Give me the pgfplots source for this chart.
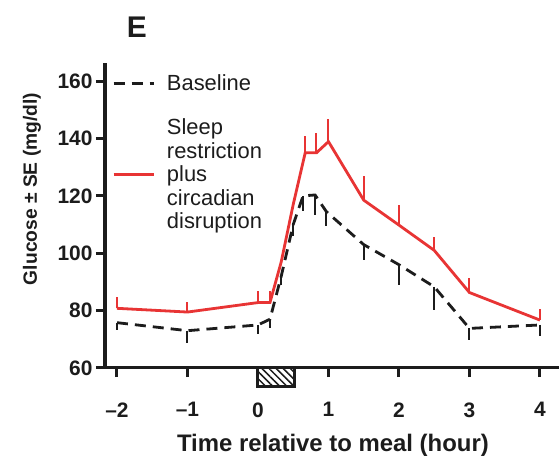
\documentclass[border=0pt]{standalone}
\usepackage{fontspec}
\setmainfont{Liberation Sans}
\usepackage{pgfplots}
\pgfplotsset{compat=1.18}
\usetikzlibrary{patterns.meta}
\definecolor{srcd}{RGB}{232,52,52}
\definecolor{base}{RGB}{28,28,28}

\begin{document}
\begin{tikzpicture}
\path[use as bounding box] (0,0) rectangle (559bp,460bp);
\begin{axis}[
  at={(105bp,92bp)}, anchor=south west,
  scale only axis, width=454bp, height=305bp,
  xmin=-2.17, xmax=4.27, ymin=60, ymax=166.3,
  clip=false,
  axis x line=bottom, axis y line=left,
  axis line style={-, line width=3bp, base},
  tick align=outside, major tick length=9bp,
  tick style={line width=3bp, base},
  xtick={-2,...,4}, xticklabels={--2,--1,0,1,2,3,4},
  ytick={60,80,...,160},
  /pgf/number format/assume math mode=true,
  ticklabel style={font=\bfseries\fontsize{21}{21}\selectfont, text=base},
  xticklabel style={yshift=-22bp},
  title={E},
  title style={at={(axis description cs:0.07,1.097)}, anchor=center,
    font=\bfseries\fontsize{30}{30}\selectfont, text=base},
  reverse legend,
  legend cell align=left,
  legend image code/.code={\draw[#1] (0bp,0bp) -- (40bp,0bp);},
  legend style={at={(axis description cs:0.0154,0.969)}, anchor=north west,
    draw=none, fill=none, inner sep=0pt, row sep=23bp, column sep=10bp,
    font=\fontsize{22}{23.5}\selectfont, text=base,
    cells={align=left}},
]
% meal period marker below the time axis
\addplot[forget plot, draw=base, line width=2.5bp,
  pattern={Lines[angle=-45, distance=5bp, line width=1.5bp]}, pattern color=base]
  coordinates {(-0.01,60) (0.52,60) (0.52,53.5) (-0.01,53.5)} -- cycle;

% sleep restriction plus circadian disruption: mean, +SE
\addplot[srcd, line width=2.8bp, no marks,
  error bars/.cd, y dir=plus, y explicit, error mark=none,
  error bar style={line width=2bp, srcd}]
  coordinates {
  (-2,80.8) +- (0,4.0)
  (-1,79.5) +- (0,3.6)
  (0,82.8) +- (0,4.2)
  (0.17,82.8) +- (0,4.2)
  (0.33,97) +- (0,0)
  (0.5,117) +- (0,0)
  (0.67,135) +- (0,6)
  (0.83,135) +- (0,7)
  (1.0,138.9) +- (0,8)
  (1.5,118.5) +- (0,8.5)
  (2.0,109.8) +- (0,7)
  (2.5,101) +- (0,4.7)
  (3.0,86.3) +- (0,5)
  (4.0,76.7) +- (0,4)
  };
\addlegendentry{Sleep\\restriction\\plus\\circadian\\disruption}

% baseline: mean, -SE
\addplot[base, line width=2.8bp, no marks, dash pattern=on 11bp off 7bp,
  error bars/.cd, y dir=minus, y explicit, error mark=none,
  error bar style={line width=2bp, solid, base}]
  coordinates {
  (-2,75.8) +- (0,2.6)
  (-1,73) +- (0,4.4)
  (0,75) +- (0,3)
  (0.17,77) +- (0,3)
  (0.33,92) +- (0,3)
  (0.5,110) +- (0,4)
  (0.64,120) +- (0,5.2)
  (0.81,120.3) +- (0,7)
  (0.97,114.5) +- (0,5)
  (1.5,103) +- (0,5.3)
  (2.0,96) +- (0,7)
  (2.5,88.3) +- (0,8)
  (3.0,73.8) +- (0,4)
  (4.0,75) +- (0,4)
  };
\addlegendentry{Baseline}

% axis titles
\node[font=\bfseries\fontsize{24}{24}\selectfont, text=base, anchor=center]
  at (rel axis cs:0.502,-0.255) {Time relative to meal (hour)};
\node[font=\bfseries\fontsize{19.3}{19.3}\selectfont, text=base, anchor=center,
  rotate=90] at (rel axis cs:-0.161,0.587) {Glucose \textpm{} SE (mg/dl)};
\end{axis}
\end{tikzpicture}
\end{document}
